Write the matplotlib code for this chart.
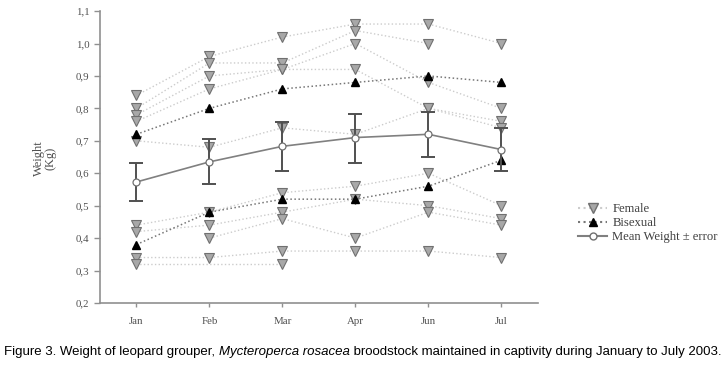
import numpy as np
import matplotlib.pyplot as plt
from matplotlib.lines import Line2D

months = ['Jan', 'Feb', 'Mar', 'Apr', 'Jun', 'Jul']

# individual females, one list per fish (None = not measured / hidden)
fem_1 = [0.84, 0.96, 1.02, 1.06, 1.06, 1.00]
fem_2 = [0.80, 0.94, 0.94, 1.04, 1.00, None]
fem_3 = [0.78, 0.90, 0.92, 1.00, 0.88, 0.80]
fem_4 = [0.76, 0.86, 0.92, 0.92, 0.80, 0.76]
fem_5 = [0.70, 0.68, 0.74, 0.72, 0.80, 0.74]
fem_6 = [0.44, 0.48, 0.54, 0.56, 0.60, 0.50]
fem_7 = [0.42, 0.44, 0.48, 0.52, 0.50, 0.46]
fem_8 = [None, 0.40, 0.46, 0.40, 0.48, 0.44]
fem_9 = [0.34, 0.34, 0.36, 0.36, 0.36, 0.34]
fem_10 = [0.32, None, 0.32, None, None, None]

bisex_1 = [0.72, 0.80, 0.86, 0.88, 0.90, 0.88]
bisex_2 = [0.38, 0.48, 0.52, 0.52, 0.56, 0.64]

mean_w = [0.573, 0.635, 0.683, 0.71, 0.72, 0.673]
err_hi = [0.633, 0.707, 0.757, 0.783, 0.79, 0.74]
err_lo = [0.515, 0.567, 0.607, 0.633, 0.65, 0.607]

plt.rcParams['font.family'] = ['Liberation Serif', 'DejaVu Serif']

fig = plt.figure(figsize=(7.24, 3.69), dpi=100)
ax = fig.add_axes([0.138, 0.179, 0.605, 0.791])

x = np.arange(len(months))
females = [fem_1, fem_2, fem_3, fem_4, fem_5, fem_6, fem_7, fem_8, fem_9,
           fem_10]

fem_col = '#a8a8a8'
for f in females:
    xs = [i for i in x if f[i] is not None]
    ys = [f[i] for i in x if f[i] is not None]
    ax.plot(xs, ys, ls=':', lw=1.0, color='#cccccc', zorder=1)
    ax.plot(xs, ys, ls='none', marker='v', ms=6.5, mfc=fem_col,
            mec='#707070', mew=0.8, zorder=3)

for b in (bisex_1, bisex_2):
    ax.plot(x, b, ls=':', lw=1.1, color='#777777', marker='^', ms=6,
            mfc='black', mec='black', zorder=4)

mean_w = np.array(mean_w)
yerr = [mean_w - np.array(err_lo), np.array(err_hi) - mean_w]
ax.errorbar(x, mean_w, yerr=yerr, fmt='none', ecolor='#505050',
            elinewidth=1.4, capsize=5, capthick=1.4, zorder=5)
ax.plot(x, mean_w, '-', color='#808080', lw=1.2, marker='o', ms=5,
        mfc='white', mec='#707070', mew=0.9, zorder=6)

ax.set_xlim(-0.5, 5.5)
ax.set_ylim(0.2, 1.1)
ax.set_xticks(x)
ax.set_xticklabels(months)
yt = np.arange(0.2, 1.11, 0.1)
ax.set_yticks(yt)
ax.set_yticklabels([f'{v:.1f}'.replace('.', ',') for v in yt])

for s in ('top', 'right'):
    ax.spines[s].set_visible(False)
for s in ('left', 'bottom'):
    ax.spines[s].set_color('#909090')
    ax.spines[s].set_linewidth(1.2)
ax.tick_params(colors='#909090', labelcolor='#505050', labelsize=7.8,
               length=4, width=1)
ax.tick_params(axis='x', pad=7, length=3)

fig.text(0.062, 0.572, 'Weight\n(Kg)', rotation=90, ha='center',
         va='center', fontsize=9, color='#505050', linespacing=1.0)

handles = [
    Line2D([], [], ls=':', color='#cccccc', marker='v', ms=6.5,
           mfc=fem_col, mec='#707070'),
    Line2D([], [], ls=':', color='#777777', marker='^', ms=6,
           mfc='black', mec='black'),
    Line2D([], [], ls='-', color='#808080', marker='o', ms=5,
           mfc='white', mec='#707070'),
]
fig.legend(handles, ['Female', 'Bisexual', 'Mean Weight \u00b1 error'],
           loc='upper left', bbox_to_anchor=(0.783, 0.48), frameon=False,
           fontsize=9.1, handlelength=2.3, handletextpad=0.4,
           labelspacing=0.15, labelcolor='#404040')

# caption with italic species name
parts = [('Figure 3. Weight of leopard grouper, ', 'normal'),
         ('Mycteroperca rosacea', 'italic'),
         (' broodstock maintained in captivity during January to July 2003.',
          'normal')]
fig.canvas.draw()
r = fig.canvas.get_renderer()
xpos = 4 / 724
for txt, st in parts:
    t = fig.text(xpos, 1 - 352 / 369, txt, fontsize=9.5, style=st,
                 family='Liberation Sans', va='center', color='black')
    bb = t.get_window_extent(renderer=r)
    xpos += bb.width / fig.bbox.width

fig.savefig('out.png', dpi=100)
